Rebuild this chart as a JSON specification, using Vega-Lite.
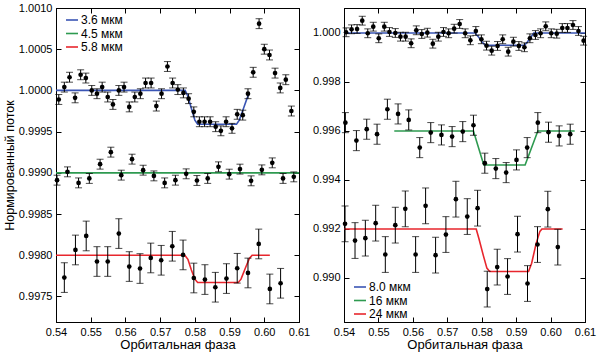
{
"$schema":"https://vega.github.io/schema/vega-lite/v6.json",
"background":"white",
"padding":{"left":2,"top":1,"right":4,"bottom":1},
"config":{"font":"Liberation Sans","view":{"stroke":"black","strokeWidth":1},
"axis":{"grid":false,"domainColor":"black","tickColor":"black","labelColor":"black","titleColor":"black","labelFontSize":11,"titleFontSize":13,"titleFontWeight":"normal","tickSize":-5,"labelPadding":9,"labelFlush":false,"labelOverlap":false},
"legend":{"labelFontSize":12,"labelColor":"black"}},
"datasets":{
"pts":[
{"panel":"L","series":"3.6 мкм","phase":0.5408,"flux":0.99989,"err":0.00006},
{"panel":"L","series":"3.6 мкм","phase":0.5424,"flux":1.00004,"err":0.00006},
{"panel":"L","series":"3.6 мкм","phase":0.5439,"flux":1.00016,"err":0.00006},
{"panel":"L","series":"3.6 мкм","phase":0.5455,"flux":0.99991,"err":0.00006},
{"panel":"L","series":"3.6 мкм","phase":0.5471,"flux":1.00019,"err":0.00006},
{"panel":"L","series":"3.6 мкм","phase":0.5486,"flux":1.00015,"err":0.00006},
{"panel":"L","series":"3.6 мкм","phase":0.5503,"flux":1.00000,"err":0.00006},
{"panel":"L","series":"3.6 мкм","phase":0.5518,"flux":0.99996,"err":0.00006},
{"panel":"L","series":"3.6 мкм","phase":0.5533,"flux":1.00004,"err":0.00006},
{"panel":"L","series":"3.6 мкм","phase":0.5549,"flux":0.99992,"err":0.00006},
{"panel":"L","series":"3.6 мкм","phase":0.5564,"flux":0.99983,"err":0.00006},
{"panel":"L","series":"3.6 мкм","phase":0.5581,"flux":1.00000,"err":0.00006},
{"panel":"L","series":"3.6 мкм","phase":0.5596,"flux":1.00004,"err":0.00006},
{"panel":"L","series":"3.6 мкм","phase":0.5611,"flux":0.99980,"err":0.00006},
{"panel":"L","series":"3.6 мкм","phase":0.5627,"flux":0.99992,"err":0.00006},
{"panel":"L","series":"3.6 мкм","phase":0.5643,"flux":0.99996,"err":0.00006},
{"panel":"L","series":"3.6 мкм","phase":0.5658,"flux":1.00009,"err":0.00006},
{"panel":"L","series":"3.6 мкм","phase":0.5674,"flux":1.00009,"err":0.00006},
{"panel":"L","series":"3.6 мкм","phase":0.5689,"flux":0.99981,"err":0.00006},
{"panel":"L","series":"3.6 мкм","phase":0.5704,"flux":0.99996,"err":0.00006},
{"panel":"L","series":"3.6 мкм","phase":0.5721,"flux":1.00029,"err":0.00006},
{"panel":"L","series":"3.6 мкм","phase":0.5736,"flux":1.00009,"err":0.00006},
{"panel":"L","series":"3.6 мкм","phase":0.5751,"flux":1.00001,"err":0.00006},
{"panel":"L","series":"3.6 мкм","phase":0.5767,"flux":0.99997,"err":0.00006},
{"panel":"L","series":"3.6 мкм","phase":0.5782,"flux":0.99990,"err":0.00006},
{"panel":"L","series":"3.6 мкм","phase":0.5797,"flux":0.99974,"err":0.00006},
{"panel":"L","series":"3.6 мкм","phase":0.5813,"flux":0.99962,"err":0.00006},
{"panel":"L","series":"3.6 мкм","phase":0.5828,"flux":0.99962,"err":0.00006},
{"panel":"L","series":"3.6 мкм","phase":0.5844,"flux":0.99962,"err":0.00006},
{"panel":"L","series":"3.6 мкм","phase":0.5860,"flux":0.99956,"err":0.00006},
{"panel":"L","series":"3.6 мкм","phase":0.5875,"flux":0.99951,"err":0.00006},
{"panel":"L","series":"3.6 мкм","phase":0.5890,"flux":0.99962,"err":0.00006},
{"panel":"L","series":"3.6 мкм","phase":0.5907,"flux":0.99954,"err":0.00006},
{"panel":"L","series":"3.6 мкм","phase":0.5922,"flux":0.99971,"err":0.00006},
{"panel":"L","series":"3.6 мкм","phase":0.5938,"flux":0.99970,"err":0.00006},
{"panel":"L","series":"3.6 мкм","phase":0.5953,"flux":0.99996,"err":0.00006},
{"panel":"L","series":"3.6 мкм","phase":0.5968,"flux":1.00022,"err":0.00006},
{"panel":"L","series":"3.6 мкм","phase":0.5985,"flux":1.00081,"err":0.00006},
{"panel":"L","series":"3.6 мкм","phase":0.6000,"flux":1.00050,"err":0.00006},
{"panel":"L","series":"3.6 мкм","phase":0.6015,"flux":1.00043,"err":0.00006},
{"panel":"L","series":"3.6 мкм","phase":0.6031,"flux":1.00021,"err":0.00006},
{"panel":"L","series":"3.6 мкм","phase":0.6046,"flux":1.00003,"err":0.00006},
{"panel":"L","series":"3.6 мкм","phase":0.6062,"flux":1.00013,"err":0.00006},
{"panel":"L","series":"3.6 мкм","phase":0.6078,"flux":0.99975,"err":0.00006},
{"panel":"L","series":"4.5 мкм","phase":0.5403,"flux":0.998911,"err":0.00006},
{"panel":"L","series":"4.5 мкм","phase":0.5433,"flux":0.999012,"err":0.00006},
{"panel":"L","series":"4.5 мкм","phase":0.5465,"flux":0.998878,"err":0.00006},
{"panel":"L","series":"4.5 мкм","phase":0.5496,"flux":0.998932,"err":0.00006},
{"panel":"L","series":"4.5 мкм","phase":0.5527,"flux":0.999105,"err":0.00006},
{"panel":"L","series":"4.5 мкм","phase":0.5558,"flux":0.999251,"err":0.00006},
{"panel":"L","series":"4.5 мкм","phase":0.5588,"flux":0.998972,"err":0.00006},
{"panel":"L","series":"4.5 мкм","phase":0.5619,"flux":0.999166,"err":0.00006},
{"panel":"L","series":"4.5 мкм","phase":0.5651,"flux":0.999032,"err":0.00006},
{"panel":"L","series":"4.5 мкм","phase":0.5682,"flux":0.998963,"err":0.00006},
{"panel":"L","series":"4.5 мкм","phase":0.5713,"flux":0.998878,"err":0.00006},
{"panel":"L","series":"4.5 мкм","phase":0.5744,"flux":0.998911,"err":0.00006},
{"panel":"L","series":"4.5 мкм","phase":0.5775,"flux":0.998988,"err":0.00006},
{"panel":"L","series":"4.5 мкм","phase":0.5806,"flux":0.998907,"err":0.00006},
{"panel":"L","series":"4.5 мкм","phase":0.5837,"flux":0.998932,"err":0.00006},
{"panel":"L","series":"4.5 мкм","phase":0.5868,"flux":0.999073,"err":0.00006},
{"panel":"L","series":"4.5 мкм","phase":0.5899,"flux":0.998984,"err":0.00006},
{"panel":"L","series":"4.5 мкм","phase":0.5930,"flux":0.999045,"err":0.00006},
{"panel":"L","series":"4.5 мкм","phase":0.5962,"flux":0.998903,"err":0.00006},
{"panel":"L","series":"4.5 мкм","phase":0.5993,"flux":0.999036,"err":0.00006},
{"panel":"L","series":"4.5 мкм","phase":0.6023,"flux":0.999121,"err":0.00006},
{"panel":"L","series":"4.5 мкм","phase":0.6054,"flux":0.998932,"err":0.00006},
{"panel":"L","series":"4.5 мкм","phase":0.6085,"flux":0.998951,"err":0.00006},
{"panel":"L","series":"5.8 мкм","phase":0.5424,"flux":0.997729,"err":0.00018},
{"panel":"L","series":"5.8 мкм","phase":0.5456,"flux":0.998064,"err":0.00018},
{"panel":"L","series":"5.8 мкм","phase":0.5487,"flux":0.998234,"err":0.00018},
{"panel":"L","series":"5.8 мкм","phase":0.5518,"flux":0.997924,"err":0.00018},
{"panel":"L","series":"5.8 мкм","phase":0.5549,"flux":0.997924,"err":0.00018},
{"panel":"L","series":"5.8 мкм","phase":0.5581,"flux":0.998263,"err":0.00018},
{"panel":"L","series":"5.8 мкм","phase":0.5611,"flux":0.997863,"err":0.00018},
{"panel":"L","series":"5.8 мкм","phase":0.5642,"flux":0.997839,"err":0.00018},
{"panel":"L","series":"5.8 мкм","phase":0.5673,"flux":0.997967,"err":0.00018},
{"panel":"L","series":"5.8 мкм","phase":0.5703,"flux":0.997939,"err":0.00018},
{"panel":"L","series":"5.8 мкм","phase":0.5735,"flux":0.998109,"err":0.00018},
{"panel":"L","series":"5.8 мкм","phase":0.5766,"flux":0.998004,"err":0.00018},
{"panel":"L","series":"5.8 мкм","phase":0.5797,"flux":0.997724,"err":0.00018},
{"panel":"L","series":"5.8 мкм","phase":0.5829,"flux":0.997705,"err":0.00018},
{"panel":"L","series":"5.8 мкм","phase":0.5859,"flux":0.997612,"err":0.00018},
{"panel":"L","series":"5.8 мкм","phase":0.5891,"flux":0.997717,"err":0.00018},
{"panel":"L","series":"5.8 мкм","phase":0.5922,"flux":0.997842,"err":0.00018},
{"panel":"L","series":"5.8 мкм","phase":0.5953,"flux":0.997785,"err":0.00018},
{"panel":"L","series":"5.8 мкм","phase":0.5984,"flux":0.998137,"err":0.00018},
{"panel":"L","series":"5.8 мкм","phase":0.6016,"flux":0.997591,"err":0.00018},
{"panel":"L","series":"5.8 мкм","phase":0.6047,"flux":0.997660,"err":0.00018},
{"panel":"R","series":"8.0 мкм","phase":0.5406,"flux":1.000029,"err":0.00018},
{"panel":"R","series":"8.0 мкм","phase":0.5422,"flux":1.000151,"err":0.00018},
{"panel":"R","series":"8.0 мкм","phase":0.5438,"flux":1.000163,"err":0.00018},
{"panel":"R","series":"8.0 мкм","phase":0.5453,"flux":1.000502,"err":0.00018},
{"panel":"R","series":"8.0 мкм","phase":0.5469,"flux":0.999988,"err":0.00018},
{"panel":"R","series":"8.0 мкм","phase":0.5485,"flux":1.000257,"err":0.00018},
{"panel":"R","series":"8.0 мкм","phase":0.5501,"flux":0.999784,"err":0.00018},
{"panel":"R","series":"8.0 мкм","phase":0.5517,"flux":1.000257,"err":0.00018},
{"panel":"R","series":"8.0 мкм","phase":0.5532,"flux":1.000041,"err":0.00018},
{"panel":"R","series":"8.0 мкм","phase":0.5549,"flux":1.000000,"err":0.00018},
{"panel":"R","series":"8.0 мкм","phase":0.5564,"flux":0.999849,"err":0.00018},
{"panel":"R","series":"8.0 мкм","phase":0.5579,"flux":0.999849,"err":0.00018},
{"panel":"R","series":"8.0 мкм","phase":0.5595,"flux":0.999580,"err":0.00018},
{"panel":"R","series":"8.0 мкм","phase":0.5610,"flux":1.000110,"err":0.00018},
{"panel":"R","series":"8.0 мкм","phase":0.5626,"flux":0.999959,"err":0.00018},
{"panel":"R","series":"8.0 мкм","phase":0.5642,"flux":1.000012,"err":0.00018},
{"panel":"R","series":"8.0 мкм","phase":0.5658,"flux":0.999563,"err":0.00018},
{"panel":"R","series":"8.0 мкм","phase":0.5674,"flux":0.999849,"err":0.00018},
{"panel":"R","series":"8.0 мкм","phase":0.5689,"flux":1.000041,"err":0.00018},
{"panel":"R","series":"8.0 мкм","phase":0.5704,"flux":0.999988,"err":0.00018},
{"panel":"R","series":"8.0 мкм","phase":0.5720,"flux":1.000175,"err":0.00018},
{"panel":"R","series":"8.0 мкм","phase":0.5736,"flux":1.000367,"err":0.00018},
{"panel":"R","series":"8.0 мкм","phase":0.5752,"flux":0.999988,"err":0.00018},
{"panel":"R","series":"8.0 мкм","phase":0.5767,"flux":0.999702,"err":0.00018},
{"panel":"R","series":"8.0 мкм","phase":0.5783,"flux":1.000082,"err":0.00018},
{"panel":"R","series":"8.0 мкм","phase":0.5799,"flux":0.999743,"err":0.00018},
{"panel":"R","series":"8.0 мкм","phase":0.5814,"flux":0.999482,"err":0.00018},
{"panel":"R","series":"8.0 мкм","phase":0.5829,"flux":0.999278,"err":0.00018},
{"panel":"R","series":"8.0 мкм","phase":0.5846,"flux":0.999470,"err":0.00018},
{"panel":"R","series":"8.0 мкм","phase":0.5861,"flux":0.999743,"err":0.00018},
{"panel":"R","series":"8.0 мкм","phase":0.5877,"flux":0.999237,"err":0.00018},
{"panel":"R","series":"8.0 мкм","phase":0.5892,"flux":0.999645,"err":0.00018},
{"panel":"R","series":"8.0 мкм","phase":0.5908,"flux":0.999470,"err":0.00018},
{"panel":"R","series":"8.0 мкм","phase":0.5924,"flux":0.999417,"err":0.00018},
{"panel":"R","series":"8.0 мкм","phase":0.5940,"flux":0.999784,"err":0.00018},
{"panel":"R","series":"8.0 мкм","phase":0.5956,"flux":0.999918,"err":0.00018},
{"panel":"R","series":"8.0 мкм","phase":0.5971,"flux":0.999988,"err":0.00018},
{"panel":"R","series":"8.0 мкм","phase":0.5986,"flux":1.000273,"err":0.00018},
{"panel":"R","series":"8.0 мкм","phase":0.6002,"flux":0.999988,"err":0.00018},
{"panel":"R","series":"8.0 мкм","phase":0.6018,"flux":0.999971,"err":0.00018},
{"panel":"R","series":"8.0 мкм","phase":0.6034,"flux":1.000204,"err":0.00018},
{"panel":"R","series":"8.0 мкм","phase":0.6049,"flux":1.000204,"err":0.00018},
{"panel":"R","series":"8.0 мкм","phase":0.6065,"flux":1.000326,"err":0.00018},
{"panel":"R","series":"8.0 мкм","phase":0.6081,"flux":1.000082,"err":0.00018},
{"panel":"R","series":"8.0 мкм","phase":0.6096,"flux":0.999686,"err":0.00018},
{"panel":"R","series":"16 мкм","phase":0.5404,"flux":0.996340,"err":0.00041},
{"panel":"R","series":"16 мкм","phase":0.5436,"flux":0.995606,"err":0.00041},
{"panel":"R","series":"16 мкм","phase":0.5466,"flux":0.996071,"err":0.00041},
{"panel":"R","series":"16 мкм","phase":0.5496,"flux":0.995867,"err":0.00041},
{"panel":"R","series":"16 мкм","phase":0.5526,"flux":0.996887,"err":0.00041},
{"panel":"R","series":"16 мкм","phase":0.5557,"flux":0.996695,"err":0.00041},
{"panel":"R","series":"16 мкм","phase":0.5588,"flux":0.996450,"err":0.00041},
{"panel":"R","series":"16 мкм","phase":0.5620,"flux":0.995320,"err":0.00041},
{"panel":"R","series":"16 мкм","phase":0.5652,"flux":0.995932,"err":0.00041},
{"panel":"R","series":"16 мкм","phase":0.5683,"flux":0.995838,"err":0.00041},
{"panel":"R","series":"16 мкм","phase":0.5714,"flux":0.995769,"err":0.00041},
{"panel":"R","series":"16 мкм","phase":0.5745,"flux":0.995973,"err":0.00041},
{"panel":"R","series":"16 мкм","phase":0.5776,"flux":0.996234,"err":0.00041},
{"panel":"R","series":"16 мкм","phase":0.5809,"flux":0.994684,"err":0.00041},
{"panel":"R","series":"16 мкм","phase":0.5841,"flux":0.994463,"err":0.00041},
{"panel":"R","series":"16 мкм","phase":0.5871,"flux":0.994300,"err":0.00041},
{"panel":"R","series":"16 мкм","phase":0.5901,"flux":0.994818,"err":0.00041},
{"panel":"R","series":"16 мкм","phase":0.5932,"flux":0.995320,"err":0.00041},
{"panel":"R","series":"16 мкм","phase":0.5963,"flux":0.996340,"err":0.00041},
{"panel":"R","series":"16 мкм","phase":0.5994,"flux":0.995949,"err":0.00041},
{"panel":"R","series":"16 мкм","phase":0.6025,"flux":0.995798,"err":0.00041},
{"panel":"R","series":"16 мкм","phase":0.6057,"flux":0.995867,"err":0.00041},
{"panel":"R","series":"24 мкм","phase":0.5403,"flux":0.992207,"err":0.00073},
{"panel":"R","series":"24 мкм","phase":0.5432,"flux":0.991526,"err":0.00073},
{"panel":"R","series":"24 мкм","phase":0.5462,"flux":0.991624,"err":0.00073},
{"panel":"R","series":"24 мкм","phase":0.5492,"flux":0.992236,"err":0.00073},
{"panel":"R","series":"24 мкм","phase":0.5520,"flux":0.990955,"err":0.00073},
{"panel":"R","series":"24 мкм","phase":0.5549,"flux":0.992154,"err":0.00073},
{"panel":"R","series":"24 мкм","phase":0.5578,"flux":0.992819,"err":0.00073},
{"panel":"R","series":"24 мкм","phase":0.5608,"flux":0.990955,"err":0.00073},
{"panel":"R","series":"24 мкм","phase":0.5637,"flux":0.992942,"err":0.00073},
{"panel":"R","series":"24 мкм","phase":0.5666,"flux":0.990930,"err":0.00073},
{"panel":"R","series":"24 мкм","phase":0.5696,"flux":0.991771,"err":0.00073},
{"panel":"R","series":"24 мкм","phase":0.5725,"flux":0.993215,"err":0.00073},
{"panel":"R","series":"24 мкм","phase":0.5758,"flux":0.992505,"err":0.00073},
{"panel":"R","series":"24 мкм","phase":0.5788,"flux":0.992848,"err":0.00073},
{"panel":"R","series":"24 мкм","phase":0.5816,"flux":0.989543,"err":0.00073},
{"panel":"R","series":"24 мкм","phase":0.5845,"flux":0.990441,"err":0.00073},
{"panel":"R","series":"24 мкм","phase":0.5875,"flux":0.990057,"err":0.00073},
{"panel":"R","series":"24 мкм","phase":0.5904,"flux":0.991787,"err":0.00073},
{"panel":"R","series":"24 мкм","phase":0.5933,"flux":0.989771,"err":0.00073},
{"panel":"R","series":"24 мкм","phase":0.5962,"flux":0.991363,"err":0.00073},
{"panel":"R","series":"24 мкм","phase":0.5992,"flux":0.992807,"err":0.00073},
{"panel":"R","series":"24 мкм","phase":0.6021,"flux":0.991257,"err":0.00073}
],
"mdl":[
{"panel":"L","series":"3.6 мкм","phase":0.5400,"flux":1.00000},
{"panel":"L","series":"3.6 мкм","phase":0.5772,"flux":1.00000},
{"panel":"L","series":"3.6 мкм","phase":0.5780,"flux":0.99993},
{"panel":"L","series":"3.6 мкм","phase":0.5790,"flux":0.99978},
{"panel":"L","series":"3.6 мкм","phase":0.5800,"flux":0.99964},
{"panel":"L","series":"3.6 мкм","phase":0.5808,"flux":0.99959},
{"panel":"L","series":"3.6 мкм","phase":0.5920,"flux":0.99959},
{"panel":"L","series":"3.6 мкм","phase":0.5928,"flux":0.99964},
{"panel":"L","series":"3.6 мкм","phase":0.5940,"flux":0.99978},
{"panel":"L","series":"3.6 мкм","phase":0.5950,"flux":0.99990},
{"panel":"L","series":"3.6 мкм","phase":0.5956,"flux":0.99996},
{"panel":"L","series":"4.5 мкм","phase":0.5400,"flux":0.99900},
{"panel":"L","series":"4.5 мкм","phase":0.6100,"flux":0.99900},
{"panel":"L","series":"5.8 мкм","phase":0.5400,"flux":0.99800},
{"panel":"L","series":"5.8 мкм","phase":0.5771,"flux":0.99800},
{"panel":"L","series":"5.8 мкм","phase":0.5780,"flux":0.99795},
{"panel":"L","series":"5.8 мкм","phase":0.5790,"flux":0.99782},
{"panel":"L","series":"5.8 мкм","phase":0.5800,"flux":0.99771},
{"panel":"L","series":"5.8 мкм","phase":0.5808,"flux":0.99767},
{"panel":"L","series":"5.8 мкм","phase":0.5925,"flux":0.99767},
{"panel":"L","series":"5.8 мкм","phase":0.5933,"flux":0.99771},
{"panel":"L","series":"5.8 мкм","phase":0.5945,"flux":0.99784},
{"panel":"L","series":"5.8 мкм","phase":0.5957,"flux":0.99796},
{"panel":"L","series":"5.8 мкм","phase":0.5965,"flux":0.99800},
{"panel":"L","series":"5.8 мкм","phase":0.6016,"flux":0.99800},
{"panel":"R","series":"8.0 мкм","phase":0.5400,"flux":1.00000},
{"panel":"R","series":"8.0 мкм","phase":0.5781,"flux":1.00000},
{"panel":"R","series":"8.0 мкм","phase":0.5790,"flux":0.99985},
{"panel":"R","series":"8.0 мкм","phase":0.5800,"flux":0.99965},
{"panel":"R","series":"8.0 мкм","phase":0.5810,"flux":0.99950},
{"panel":"R","series":"8.0 мкм","phase":0.5924,"flux":0.99950},
{"panel":"R","series":"8.0 мкм","phase":0.5932,"flux":0.99962},
{"panel":"R","series":"8.0 мкм","phase":0.5943,"flux":0.99983},
{"panel":"R","series":"8.0 мкм","phase":0.5951,"flux":1.00000},
{"panel":"R","series":"8.0 мкм","phase":0.6100,"flux":1.00000},
{"panel":"R","series":"16 мкм","phase":0.5546,"flux":0.99600},
{"panel":"R","series":"16 мкм","phase":0.5776,"flux":0.99600},
{"panel":"R","series":"16 мкм","phase":0.5806,"flux":0.99461},
{"panel":"R","series":"16 мкм","phase":0.5926,"flux":0.99461},
{"panel":"R","series":"16 мкм","phase":0.5963,"flux":0.99600},
{"panel":"R","series":"16 мкм","phase":0.6070,"flux":0.99600},
{"panel":"R","series":"24 мкм","phase":0.5400,"flux":0.99200},
{"panel":"R","series":"24 мкм","phase":0.5784,"flux":0.99200},
{"panel":"R","series":"24 мкм","phase":0.5792,"flux":0.99160},
{"panel":"R","series":"24 мкм","phase":0.5805,"flux":0.99090},
{"panel":"R","series":"24 мкм","phase":0.5815,"flux":0.99040},
{"panel":"R","series":"24 мкм","phase":0.5823,"flux":0.99026},
{"panel":"R","series":"24 мкм","phase":0.5936,"flux":0.99026},
{"panel":"R","series":"24 мкм","phase":0.5945,"flux":0.99060},
{"panel":"R","series":"24 мкм","phase":0.5958,"flux":0.99140},
{"panel":"R","series":"24 мкм","phase":0.5969,"flux":0.99190},
{"panel":"R","series":"24 мкм","phase":0.5975,"flux":0.99200},
{"panel":"R","series":"24 мкм","phase":0.6035,"flux":0.99200}
]},
"spacing":45,
"bounds":"flush",
"resolve":{"scale":{"x":"independent","y":"independent","color":"independent"}},
"hconcat":[
{"width":243,"height":314,
"resolve":{"axis":{"x":"independent","y":"independent"}},
"layer":[
{"data":{"name":"mdl"},"transform":[{"filter":"datum.panel==='L'"}],
"mark":{"type":"line","strokeWidth":1.6},
"encoding":{
"x":{"field":"phase","type":"quantitative","scale":{"domain":[0.54,0.61],"nice":false,"zero":false},"axis":{"values":[0.54,0.55,0.56,0.57,0.58,0.59,0.6,0.61],"format":".2f","title":"Орбитальная фаза","titlePadding":1}},
"y":{"field":"flux","type":"quantitative","scale":{"domain":[0.99719,1.0010],"nice":false,"zero":false},"axis":{"values":[0.9975,0.998,0.9985,0.999,0.9995,1.0,1.0005,1.001],"format":".4f","title":"Нормированный поток","titleFontSize":12.5,"titlePadding":2}},
"color":{"field":"series","type":"nominal","scale":{"domain":["3.6 мкм","4.5 мкм","5.8 мкм"],"range":["#3a55b4","#2e9a50","#e8262d"]},
"legend":{"orient":"none","legendX":9,"legendY":5,"title":null,"symbolType":"stroke","symbolSize":144,"symbolStrokeWidth":1.6,"rowPadding":0.5,"padding":0,"labelOffset":2}}}},
{"data":{"name":"pts"},"transform":[{"filter":"datum.panel==='L'"}],
"mark":{"type":"errorbar","ticks":true,"size":7,"thickness":1,"color":"black"},
"encoding":{"x":{"field":"phase","type":"quantitative","axis":null},"y":{"field":"flux","type":"quantitative","axis":null},"yError":{"field":"err"}}},
{"data":{"name":"pts"},"transform":[{"filter":"datum.panel==='L'"}],
"mark":{"type":"circle","color":"black","size":22,"opacity":1},
"encoding":{
"x":{"field":"phase","type":"quantitative","axis":{"orient":"top","labels":false,"title":null,"minExtent":0,"maxExtent":0,"labelPadding":0,"values":[0.54,0.55,0.56,0.57,0.58,0.59,0.6,0.61]}},
"y":{"field":"flux","type":"quantitative","axis":{"orient":"right","labels":false,"title":null,"minExtent":0,"maxExtent":0,"labelPadding":0,"values":[0.9975,0.998,0.9985,0.999,0.9995,1.0,1.0005,1.001]}}}}
]},
{"width":241,"height":314,
"resolve":{"axis":{"x":"independent","y":"independent"}},
"layer":[
{"data":{"name":"mdl"},"transform":[{"filter":"datum.panel==='R'"}],
"mark":{"type":"line","strokeWidth":1.6},
"encoding":{
"x":{"field":"phase","type":"quantitative","scale":{"domain":[0.54,0.61],"nice":false,"zero":false},"axis":{"values":[0.54,0.55,0.56,0.57,0.58,0.59,0.6,0.61],"format":".2f","title":"Орбитальная фаза","titlePadding":1}},
"y":{"field":"flux","type":"quantitative","scale":{"domain":[0.98820,1.00102],"nice":false,"zero":false},"axis":{"values":[0.99,0.992,0.994,0.996,0.998,1.0],"format":".3f","title":null}},
"color":{"field":"series","type":"nominal","scale":{"domain":["8.0 мкм","16 мкм","24 мкм"],"range":["#3a55b4","#2e9a50","#e8262d"]},
"legend":{"orient":"none","legendX":9,"legendY":272,"title":null,"symbolType":"stroke","symbolSize":144,"symbolStrokeWidth":1.6,"rowPadding":0.5,"padding":0,"labelOffset":2}}}},
{"data":{"name":"pts"},"transform":[{"filter":"datum.panel==='R'"}],
"mark":{"type":"errorbar","ticks":true,"size":7,"thickness":1,"color":"black"},
"encoding":{"x":{"field":"phase","type":"quantitative","axis":null},"y":{"field":"flux","type":"quantitative","axis":null},"yError":{"field":"err"}}},
{"data":{"name":"pts"},"transform":[{"filter":"datum.panel==='R'"}],
"mark":{"type":"circle","color":"black","size":22,"opacity":1},
"encoding":{
"x":{"field":"phase","type":"quantitative","axis":{"orient":"top","labels":false,"title":null,"minExtent":0,"maxExtent":0,"labelPadding":0,"values":[0.54,0.55,0.56,0.57,0.58,0.59,0.6,0.61]}},
"y":{"field":"flux","type":"quantitative","axis":{"orient":"right","labels":false,"title":null,"minExtent":0,"maxExtent":0,"labelPadding":0,"values":[0.99,0.992,0.994,0.996,0.998,1.0]}}}}
]}
]
}
